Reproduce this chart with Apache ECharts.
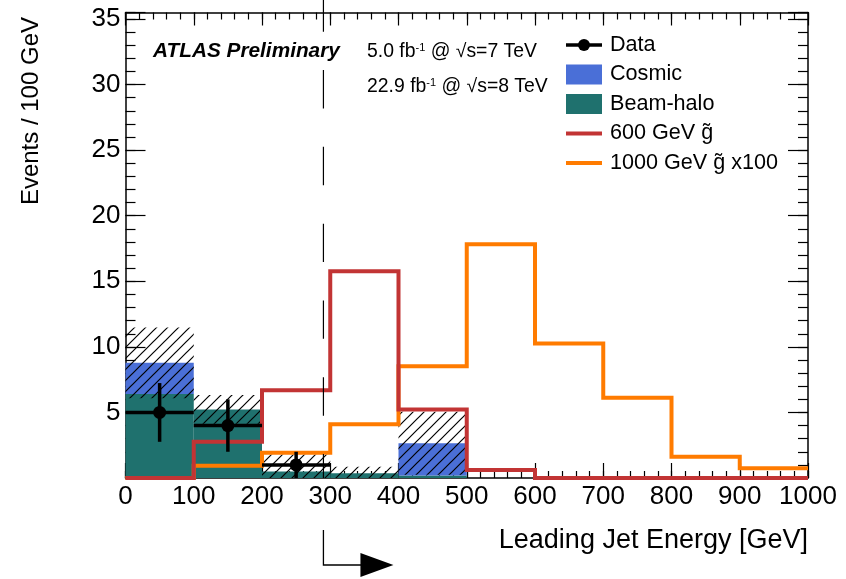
<!DOCTYPE html>
<html>
<head>
<meta charset="utf-8">
<script src="https://cdn.jsdelivr.net/npm/echarts@6/dist/echarts.min.js"></script>
<style>
  html, body { margin: 0; padding: 0; background: #ffffff; }
  #chart { width: 846px; height: 579px; }
</style>
</head>
<body>
<div id="chart"></div>
<script>
// Histogram binning: leading jet energy, 100 GeV bins
const binEdges = [0, 100, 200, 300, 400, 500, 600, 700, 800, 900, 1000];

// Background estimates (events / 100 GeV), stacked: beam-halo then cosmic
const beamHalo = [6.40, 5.23, 0.50, 0.36, 0.20, 0, 0, 0, 0, 0];
const cosmic   = [2.38, 0.00, 0.00, 0.00, 2.45, 0, 0, 0, 0, 0];
// Total background uncertainty (hatched band)
const bkgErr   = [2.70, 1.10, 1.30, 0.50, 2.40, 0, 0, 0, 0, 0];

// Signal templates
const gluino600      = [0.00, 2.76, 6.70, 15.77, 5.23, 0.61, 0, 0, 0, 0];
const gluino1000x100 = [0.00, 0.94, 1.93, 4.09, 8.53, 17.82, 10.26, 6.12, 1.62, 0.74];

// Observed data
const dataX   = [50, 150, 250];
const dataY   = [5, 4, 1];
const dataErr = [2.24, 2.0, 1.0];
const dataHalfWidth = 50;

// Selection cut on leading jet energy
const jetCut = 290;

// Axis ticks
const yMax = 35.5;
const yLabelValues = [5, 10, 15, 20, 25, 30, 35];

const FONT = '"Liberation Sans", Arial, Helvetica, sans-serif';
const C_COSMIC = '#4a6fd7';
const C_HALO = '#1f716e';
const C_RED = '#c23434';
const C_ORANGE = '#ff7b00';

// Build histogram rectangles [lo, hi, y0, y1]
function stackRects(base, vals) {
  const out = [];
  for (let i = 0; i < vals.length; i++) {
    const b = base ? base[i] : 0;
    if (vals[i] > 0) out.push([binEdges[i], binEdges[i + 1], b, b + vals[i]]);
  }
  return out;
}
function bandRects() {
  const out = [];
  for (let i = 0; i < bkgErr.length; i++) {
    if (bkgErr[i] <= 0) continue;
    const tot = beamHalo[i] + cosmic[i];
    out.push([binEdges[i], binEdges[i + 1], Math.max(0, tot - bkgErr[i]), tot + bkgErr[i]]);
  }
  return out;
}
function stepLine(vals) {
  const pts = [];
  for (let i = 0; i < vals.length; i++) {
    pts.push([binEdges[i], vals[i]]);
    pts.push([binEdges[i + 1], vals[i]]);
  }
  return pts;
}

// Diagonal hatch pattern for the uncertainty band
function hatchPattern() {
  const s = 11;
  const cv = document.createElement('canvas');
  cv.width = s; cv.height = s;
  const ctx = cv.getContext('2d');
  ctx.strokeStyle = '#000';
  ctx.lineWidth = 1.2;
  ctx.beginPath();
  ctx.moveTo(0, s); ctx.lineTo(s, 0);
  ctx.moveTo(-2, 2); ctx.lineTo(2, -2);
  ctx.moveTo(s - 2, s + 2); ctx.lineTo(s + 2, s - 2);
  ctx.stroke();
  return { image: cv, repeat: 'repeat' };
}

function rectRenderer(fill) {
  return function (params, api) {
    const p0 = api.coord([api.value(0), api.value(3)]);
    const p1 = api.coord([api.value(1), api.value(2)]);
    return {
      type: 'rect',
      shape: { x: p0[0], y: p0[1], width: p1[0] - p0[0], height: p1[1] - p0[1] },
      style: { fill: fill, stroke: null }
    };
  };
}

const gridBox = { left: 125.5, right: 38, top: 12.5, bottom: 101 };

function xAx(gridIndex, position, interval, tickLen, withLabels, withLine) {
  return {
    type: 'value', gridIndex, position, min: 0, max: 1000, interval,
    axisLine: { show: withLine, onZero: false, lineStyle: { color: '#000', width: 1.5 } },
    axisTick: { show: true, inside: true, length: tickLen, lineStyle: { color: '#000', width: 1.2 } },
    axisLabel: withLabels ? {
      show: true, margin: 6, color: '#000', fontSize: 26, fontFamily: FONT,
      showMinLabel: true, showMaxLabel: true, formatter: v => String(v)
    } : { show: false },
    splitLine: { show: false }
  };
}
function yAx(gridIndex, position, interval, tickLen, withLabels, withLine) {
  return {
    type: 'value', gridIndex, position, min: 0, max: yMax, interval,
    axisLine: { show: withLine, onZero: false, lineStyle: { color: '#000', width: 1.5 } },
    axisTick: { show: true, inside: true, length: tickLen, lineStyle: { color: '#000', width: 1.2 } },
    axisLabel: withLabels ? {
      show: true, margin: 5, color: '#000', fontSize: 26, fontFamily: FONT,
      formatter: v => (yLabelValues.indexOf(v) >= 0 ? String(v) : '')
    } : { show: false },
    splitLine: { show: false }
  };
}

const chart = echarts.init(document.getElementById('chart'), null, { renderer: 'canvas' });

chart.setOption({
  animation: false,
  backgroundColor: '#ffffff',
  grid: [0, 1, 2, 3].map(() => Object.assign({ containLabel: false }, gridBox)),
  xAxis: [
    xAx(0, 'bottom', 100, 15, true, true),
    xAx(1, 'top', 100, 13, false, true),
    xAx(2, 'bottom', 20, 7, false, false),
    xAx(3, 'top', 20, 7, false, false)
  ],
  yAxis: [
    yAx(0, 'left', 5, 20, true, true),
    yAx(1, 'right', 5, 20, false, true),
    yAx(2, 'left', 1, 10, false, false),
    yAx(3, 'right', 1, 10, false, false)
  ],
  series: [
    {
      name: 'Beam-halo', type: 'custom', xAxisIndex: 0, yAxisIndex: 0, z: 1,
      renderItem: rectRenderer(C_HALO), data: stackRects(null, beamHalo), clip: true
    },
    {
      name: 'Cosmic', type: 'custom', xAxisIndex: 0, yAxisIndex: 0, z: 1,
      renderItem: rectRenderer(C_COSMIC), data: stackRects(beamHalo, cosmic), clip: true
    },
    {
      name: 'Uncertainty', type: 'custom', xAxisIndex: 0, yAxisIndex: 0, z: 2,
      renderItem: rectRenderer(hatchPattern()), data: bandRects(), clip: true
    },
    {
      name: '1000 GeV x100', type: 'line', xAxisIndex: 0, yAxisIndex: 0, z: 3,
      data: stepLine(gluino1000x100), symbol: 'none', clip: false,
      lineStyle: { color: C_ORANGE, width: 4, cap: 'butt', join: 'miter' }
    },
    {
      name: '600 GeV', type: 'line', xAxisIndex: 0, yAxisIndex: 0, z: 4,
      data: stepLine(gluino600), symbol: 'none', clip: false,
      lineStyle: { color: C_RED, width: 4, cap: 'butt', join: 'miter' }
    },
    {
      name: 'Data', type: 'custom', xAxisIndex: 0, yAxisIndex: 0, z: 5, clip: false,
      data: dataX.map((x, i) => [x, dataY[i], dataErr[i]]),
      renderItem: function (params, api) {
        const x = api.value(0), y = api.value(1), e = api.value(2);
        const c = api.coord([x, y]);
        const l = api.coord([x - dataHalfWidth, y]);
        const r = api.coord([x + dataHalfWidth, y]);
        const t = api.coord([x, y + e]);
        const b = api.coord([x, Math.max(0, y - e)]);
        const ls = { stroke: '#000', lineWidth: 3.5 };
        return {
          type: 'group',
          children: [
            { type: 'line', shape: { x1: l[0], y1: l[1], x2: r[0], y2: r[1] }, style: ls },
            { type: 'line', shape: { x1: t[0], y1: t[1], x2: b[0], y2: b[1] }, style: ls },
            { type: 'circle', shape: { cx: c[0], cy: c[1], r: 6.5 }, style: { fill: '#000' } }
          ]
        };
      }
    }
  ]
});

// Annotations placed after the axes exist, so the cut line follows the x scale
const cutX = chart.convertToPixel({ xAxisIndex: 0 }, jetCut);
const yZero = chart.convertToPixel({ yAxisIndex: 0 }, 0);

const textStyle = (size, extra) => Object.assign({ fill: '#000', font: size + 'px ' + FONT }, extra || {});
const legendX = 566, legendTextX = 610;
const legendRows = [45, 74.5, 104, 133.5, 163];
const supRich = { sup: { fontSize: 11, fontFamily: FONT, fill: '#000', verticalAlign: 'top', padding: [0, 0, 9, 0] } };

chart.setOption({
  graphic: { elements: [
    // Experiment label and luminosities
    { id: 'atlas', type: 'text', x: 153, y: 51, style: {
        text: 'ATLAS Preliminary', fill: '#000', font: 'italic bold 20.8px ' + FONT, verticalAlign: 'middle' } },
    { id: 'lumi7', type: 'text', x: 367, y: 52, style: {
        text: '5.0 fb{sup|-1} @ √s=7 TeV', fill: '#000', font: '19.4px ' + FONT, verticalAlign: 'middle', rich: supRich } },
    { id: 'lumi8', type: 'text', x: 367, y: 87, style: {
        text: '22.9 fb{sup|-1} @ √s=8 TeV', fill: '#000', font: '19.4px ' + FONT, verticalAlign: 'middle', rich: supRich } },

    // Legend
    { id: 'lgDataLine', type: 'line', shape: { x1: legendX, y1: legendRows[0], x2: legendX + 36, y2: legendRows[0] },
      style: { stroke: '#000', lineWidth: 3.5 } },
    { id: 'lgDataDot', type: 'circle', shape: { cx: legendX + 18, cy: legendRows[0], r: 6 }, style: { fill: '#000' } },
    { id: 'lgDataTxt', type: 'text', x: legendTextX, y: legendRows[0], style: textStyle(21.6, { text: 'Data', verticalAlign: 'middle' }) },
    { id: 'lgCosRect', type: 'rect', shape: { x: legendX, y: legendRows[1] - 10, width: 36, height: 20 }, style: { fill: C_COSMIC } },
    { id: 'lgCosTxt', type: 'text', x: legendTextX, y: legendRows[1], style: textStyle(21.6, { text: 'Cosmic', verticalAlign: 'middle' }) },
    { id: 'lgHaloRect', type: 'rect', shape: { x: legendX, y: legendRows[2] - 10, width: 36, height: 20 }, style: { fill: C_HALO } },
    { id: 'lgHaloTxt', type: 'text', x: legendTextX, y: legendRows[2], style: textStyle(21.6, { text: 'Beam-halo', verticalAlign: 'middle' }) },
    { id: 'lg600Line', type: 'line', shape: { x1: legendX, y1: legendRows[3], x2: legendX + 36, y2: legendRows[3] },
      style: { stroke: C_RED, lineWidth: 4 } },
    { id: 'lg600Txt', type: 'text', x: legendTextX, y: legendRows[3], style: textStyle(21.6, { text: '600 GeV g\u0303', verticalAlign: 'middle' }) },
    { id: 'lg1000Line', type: 'line', shape: { x1: legendX, y1: legendRows[4], x2: legendX + 36, y2: legendRows[4] },
      style: { stroke: C_ORANGE, lineWidth: 4 } },
    { id: 'lg1000Txt', type: 'text', x: legendTextX, y: legendRows[4], style: textStyle(21.6, { text: '1000 GeV g\u0303 x100', verticalAlign: 'middle' }) },

    // Axis titles
    { id: 'xTitle', type: 'text', x: 808, y: 541, style: textStyle(27, {
        text: 'Leading Jet Energy [GeV]', align: 'right', verticalAlign: 'middle' }) },
    { id: 'yTitle', type: 'text', x: 31, y: 17, rotation: Math.PI / 2, style: textStyle(24, {
        text: 'Events / 100 GeV', align: 'right', verticalAlign: 'middle' }) },

    // Cut line and selection arrow
    { id: 'cutLine', type: 'line', z: 10, shape: { x1: cutX, y1: 0, x2: cutX, y2: yZero },
      style: { stroke: '#000', lineWidth: 1.2, lineDash: [38.4, 38.4], lineDashOffset: 6.75 } },
    { id: 'arrowStem', type: 'polyline', shape: { points: [[cutX, 530], [cutX, 565], [cutX + 38, 565]] },
      style: { stroke: '#000', lineWidth: 1.3, fill: null } },
    { id: 'arrowHead', type: 'polygon', shape: { points: [[cutX + 37, 553], [cutX + 70, 565], [cutX + 37, 577]] },
      style: { fill: '#000' } }
  ] }
});
</script>
</body>
</html>
